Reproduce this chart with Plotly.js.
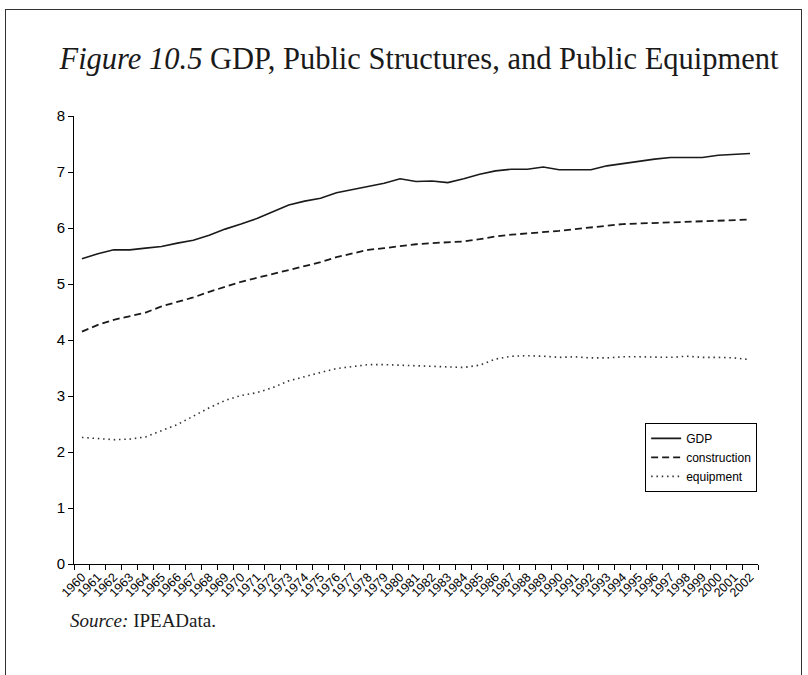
<!DOCTYPE html>
<html>
<head>
<meta charset="utf-8">
<script src="https://cdn.plot.ly/plotly-3.0.1.min.js"></script>
<style>
  html, body { margin: 0; padding: 0; background: #fff; }
  #wrap { position: relative; width: 808px; height: 675px; overflow: hidden; }
  #frame { position: absolute; left: 5px; top: 9px; width: 797px; height: 700px;
           border: 1.5px solid #333; box-sizing: border-box; pointer-events: none; z-index: 5; }
  #chart { position: absolute; left: 0; top: 0; width: 808px; height: 675px; }
</style>
</head>
<body>
<div id="wrap">
  <div id="chart"></div>
  <div id="frame"></div>
</div>
<script>
const years = ["1960","1961","1962","1963","1964","1965","1966","1967","1968","1969",
  "1970","1971","1972","1973","1974","1975","1976","1977","1978","1979",
  "1980","1981","1982","1983","1984","1985","1986","1987","1988","1989",
  "1990","1991","1992","1993","1994","1995","1996","1997","1998","1999",
  "2000","2001","2002"];

const gdp = [5.45,5.54,5.61,5.61,5.64,5.67,5.73,5.78,5.87,5.98,
  6.07,6.17,6.29,6.41,6.48,6.53,6.63,6.69,6.74,6.80,
  6.88,6.83,6.84,6.81,6.88,6.96,7.02,7.05,7.05,7.09,
  7.04,7.04,7.04,7.11,7.15,7.20,7.23,7.26,7.26,7.26,
  7.30,7.32,7.33];

const construction = [4.15,4.27,4.36,4.42,4.49,4.60,4.68,4.76,4.86,4.95,
  5.04,5.11,5.18,5.26,5.32,5.39,5.48,5.55,5.61,5.64,
  5.68,5.71,5.73,5.74,5.76,5.80,5.85,5.88,5.90,5.92,
  5.95,5.98,6.01,6.04,6.07,6.08,6.09,6.11,6.12,6.12,
  6.13,6.14,6.15];

const equipment = [2.26,2.24,2.22,2.23,2.27,2.38,2.49,2.64,2.79,2.92,
  3.01,3.06,3.15,3.27,3.35,3.42,3.49,3.53,3.56,3.56,
  3.55,3.55,3.54,3.52,3.51,3.55,3.66,3.71,3.72,3.71,
  3.69,3.70,3.68,3.68,3.70,3.70,3.69,3.69,3.71,3.69,
  3.69,3.68,3.65];

const yTicks = [0,1,2,3,4,5,6,7,8];

const lineColor = '#1a1a1a';
const traces = [
  {x: years, y: gdp, name: 'GDP', type: 'scatter', mode: 'lines',
   line: {color: lineColor, width: 1.6, dash: 'solid'}},
  {x: years, y: construction, name: 'construction', type: 'scatter', mode: 'lines',
   line: {color: lineColor, width: 1.8, dash: '7px,4px'}},
  {x: years, y: equipment, name: 'equipment', type: 'scatter', mode: 'lines',
   line: {color: '#333', width: 1.6, dash: '1.5px,3.8px'}}
];

const layout = {
  width: 808, height: 675,
  margin: {l: 74, r: 50, t: 116, b: 111, pad: 0},
  paper_bgcolor: 'rgba(0,0,0,0)', plot_bgcolor: 'rgba(0,0,0,0)',
  showlegend: true,
  title: {
    text: '<i>Figure 10.5</i> GDP, Public Structures, and Public Equipment',
    font: {family: 'Liberation Serif, serif', size: 30.5, color: '#1a1a1a'},
    x: 419 / 808, xanchor: 'center', xref: 'container', y: 1 - 58 / 675, yanchor: 'middle'
  },
  xaxis: {
    type: 'category', range: [-0.5, 42.5], tickson: 'boundaries',
    showline: true, linecolor: '#000', linewidth: 1,
    ticks: 'outside', ticklen: 5, tickcolor: '#000', tickwidth: 1,
    tickangle: -45, tickfont: {family: 'Liberation Sans, Arial, sans-serif', size: 12.5, color: '#000'},
    showgrid: false, zeroline: false, fixedrange: true
  },
  yaxis: {
    range: [0, 8], tickvals: yTicks,
    showline: true, linecolor: '#000', linewidth: 1,
    ticks: 'outside', ticklen: 5, tickcolor: '#000', tickwidth: 1,
    tickfont: {family: 'Liberation Sans, Arial, sans-serif', size: 15, color: '#000'},
    showgrid: false, zeroline: false, fixedrange: true
  },
  legend: {
    x: 0.835, y: 0.315, xanchor: 'left', yanchor: 'top',
    bgcolor: '#fff', bordercolor: '#000', borderwidth: 1,
    font: {family: 'Liberation Sans, Arial, sans-serif', size: 12, color: '#000'},
    tracegroupgap: 0, itemwidth: 30
  },
  annotations: [{
    text: '<i>Source:</i> IPEAData.', xref: 'paper', yref: 'paper',
    x: (68 - 74) / 684, y: -(620 - 564) / 448, xanchor: 'left', yanchor: 'middle',
    showarrow: false, font: {family: 'Liberation Serif, serif', size: 19, color: '#1a1a1a'}
  }]
};

Plotly.newPlot('chart', traces, layout, {staticPlot: true, displayModeBar: false});
</script>
</body>
</html>
